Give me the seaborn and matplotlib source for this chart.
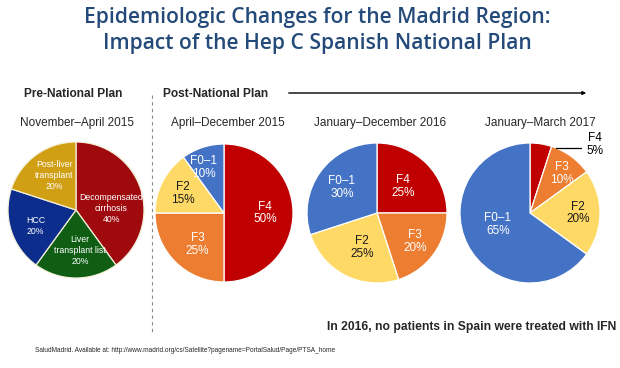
import numpy as np
import matplotlib
matplotlib.use("Agg")
import matplotlib.pyplot as plt
import seaborn as sns

# data
title_lines = ["Epidemiologic Changes for the Madrid Region:",
               "Impact of the Hep C Spanish National Plan"]
pre_labels = ["Decompensated\ncirrhosis", "Liver\ntransplant list", "HCC", "Post-liver\ntransplant"]
pre_values = [40, 20, 20, 20]
stage_labels = ["F4", "F3", "F2", "F0\u20131"]
apr_dec_2015 = [50, 25, 15, 10]
jan_dec_2016 = [25, 20, 25, 30]
jan_mar_2017 = [5, 10, 20, 65]
period_labels = ["November\u2013April 2015", "April\u2013December 2015",
                 "January\u2013December 2016", "January\u2013March 2017"]

pre_colors = ["#9E0A0E", "#0F5E14", "#0C2D8C", "#D19F14"]
stage_colors = ["#C00000", "#ED7D31", "#FFD966", "#4472C4"]

sns.set_theme(style="white")
plt.rcParams["font.family"] = ["Liberation Sans", "DejaVu Sans"]

W, H = 620, 368
fig = plt.figure(figsize=(W / 100, H / 100), dpi=100)
fig.patch.set_facecolor("white")

# overlay axes in pixel coordinates for the slide text
ov = fig.add_axes([0, 0, 1, 1])
ov.set_xlim(0, W)
ov.set_ylim(H, 0)
ov.axis("off")

navy = "#244A7A"
for k, line in enumerate(title_lines):
    ov.text(317, 17 + 27 * k, line, ha="center", va="center", fontsize=15.1,
            fontweight="semibold", color=navy, family=["Open Sans", "DejaVu Sans"])

ov.text(24, 94, "Pre-National Plan", ha="left", va="center", fontsize=8.6, fontweight="bold")
ov.text(163, 94, "Post-National Plan", ha="left", va="center", fontsize=8.6, fontweight="bold")
ov.annotate("", xy=(589, 93), xytext=(286, 93),
            arrowprops=dict(arrowstyle="-|>", color="black", lw=1, mutation_scale=5))
ov.plot([152, 152], [95, 332], color="#8a8a8a", lw=0.8, ls=(0, (3, 3)))

ov.text(616, 327, "In 2016, no patients in Spain were treated with IFN", ha="right",
        va="center", fontsize=8.7, fontweight="bold")
ov.text(35, 351, "SaludMadrid. Available at: http://www.madrid.org/cs/Satellite?pagename=PortalSalud/Page/PTSA_home",
        ha="left", va="center", fontsize=4.7)

centers = [(76, 210), (224, 213), (377, 213), (530, 213)]
radii = [68, 69, 70, 70]
pies = [(pre_labels, pre_values, pre_colors), (stage_labels, apr_dec_2015, stage_colors),
        (stage_labels, jan_dec_2016, stage_colors), (stage_labels, jan_mar_2017, stage_colors)]
# label placement (distance from centre, angle nudge in degrees)
label_dist = [[0.52, 0.6, 0.64, 0.6], [0.6, 0.6, 0.66, 0.72],
              [0.53, 0.68, 0.54, 0.62], [None, 0.72, 0.69, 0.49]]
label_nudge = [[-15, 6, 4, -4], [0, 5, 2, 6], [0, -1, 4, 0], [0, -3, 0, -7]]
label_size = [6.3, 8.5, 8.5, 8.5]
label_spacing = [1.3, 1.1, 1.1, 1.1]
subtitle_x = [77, 228, 380, 540]

for i, ((labels, values, colors), (cx, cy), r) in enumerate(zip(pies, centers, radii)):
    ax = fig.add_axes([(cx - r) / W, 1 - (cy + r) / H, 2 * r / W, 2 * r / H])
    edge = "#F4EFD8" if i == 0 else "white"
    wedges, _ = ax.pie(values, colors=colors, startangle=90, counterclock=False,
                       wedgeprops=dict(edgecolor=edge, linewidth=0.9))
    ax.set_xlim(-1, 1)
    ax.set_ylim(-1, 1)
    ax.axis("off")
    for j, (w, lab, v) in enumerate(zip(wedges, labels, values)):
        d = label_dist[i][j]
        if d is None:
            continue
        ang = np.deg2rad((w.theta1 + w.theta2) / 2 + label_nudge[i][j])
        txt_color = "#1a1a1a" if (i > 0 and lab == "F2") else "white"
        ax.text(d * np.cos(ang), d * np.sin(ang), f"{lab}\n{v}%", ha="center", va="center",
                fontsize=label_size[i], color=txt_color, linespacing=label_spacing[i])
    ov.text(subtitle_x[i], 123, period_labels[i], ha="center", va="center", fontsize=8.5)

# small F4 slice in last pie labelled outside with a leader line
ax.plot([0.37, 0.73], [0.93, 0.93], color="black", lw=0.9, clip_on=False)
ax.text(0.93, 0.98, f"{stage_labels[0]}\n{jan_mar_2017[0]}%", ha="center", va="center",
        fontsize=8.5, color="black", linespacing=1.1)

fig.savefig("out.png", dpi=100, facecolor="white")
